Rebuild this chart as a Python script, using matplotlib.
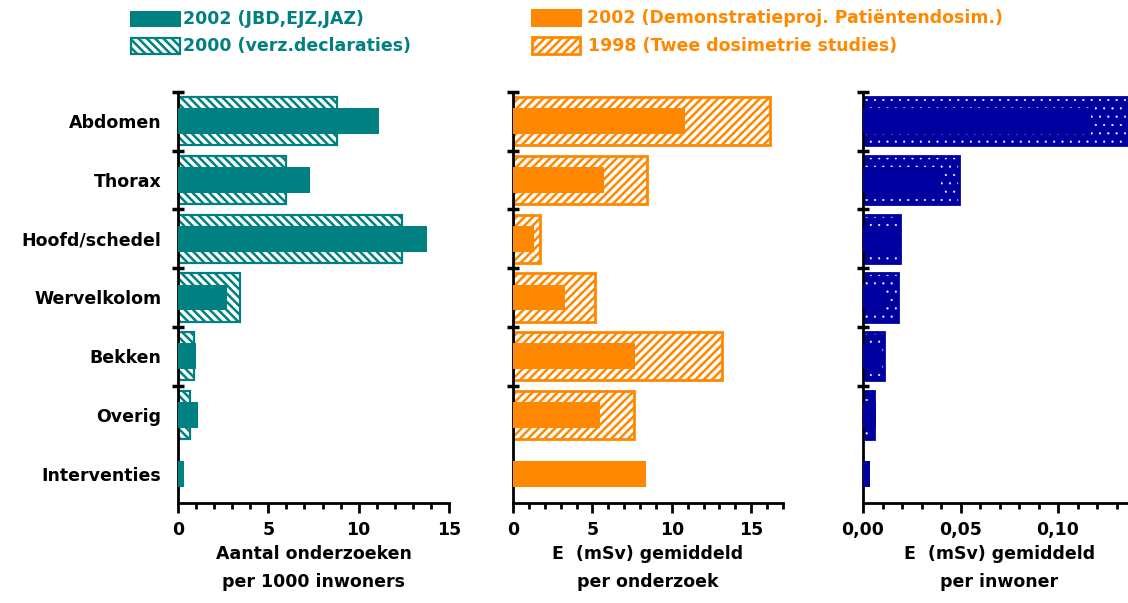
import numpy as np
import matplotlib
matplotlib.use("Agg")
import matplotlib.pyplot as plt
from matplotlib.patches import Rectangle
from matplotlib.ticker import FixedLocator, MultipleLocator

# ── data ──────────────────────────────────────────────────────────────────
categories = ["Abdomen", "Thorax", "Hoofd/schedel", "Wervelkolom",
              "Bekken", "Overig", "Interventies"]

freq_2002 = [11.1, 7.3, 13.8, 2.7, 1.0, 1.1, 0.33]          # per 1000 inwoners
freq_2000 = [8.8, 6.0, 12.4, 3.45, 0.9, 0.67, None]

dose_2002 = [10.8, 5.7, 1.35, 3.3, 7.65, 5.45, 8.35]        # mSv per onderzoek
dose_1998 = [16.15, 8.45, 1.7, 5.15, 13.15, 7.6, None]

cap_solid = [0.117, 0.040, 0.0175, 0.012, 0.009, 0.0065, 0.0034]   # mSv per inwoner
cap_patt  = [0.145, 0.049, 0.019, 0.018, 0.011, 0.0055, None]

x3_ticks  = [0.0, 0.05, 0.10]
x3_labels = ["0,00", "0,05", "0,10"]

legend1 = ["2002 (JBD,EJZ,JAZ)", "2000 (verz.declaraties)"]
legend2 = ["2002 (Demonstratieproj. Patiëntendosim.)", "1998 (Twee dosimetrie studies)"]

xlabels = ["Aantal onderzoeken\nper 1000 inwoners",
           "E  (mSv) gemiddeld\nper onderzoek",
           "E  (mSv) gemiddeld\nper inwoner"]

TEAL, ORANGE, BLUE = "#008080", "#FF8800", "#0000A0"
BACK = "\\" * 4
FWD = "////"

plt.rcParams["font.family"] = "DejaVu Sans"
plt.rcParams["font.weight"] = "bold"
plt.rcParams["axes.labelweight"] = "bold"
plt.rcParams["hatch.linewidth"] = 1.8
FS = 12.5

W, H = 1128, 603
fig = plt.figure(figsize=(W / 100, H / 100), dpi=100)

def rect(x0, x1, ytop, ybot):
    return [x0 / W, 1 - ybot / H, (x1 - x0) / W, (ybot - ytop) / H]

ax1 = fig.add_axes(rect(178, 449, 92, 503))
ax2 = fig.add_axes(rect(513, 783, 92, 503))
ax3 = fig.add_axes(rect(863, 1136, 92, 503))

y = np.arange(len(categories))
WIDE, NARROW = 0.82, 0.44

def split(vals):
    idx = [i for i, v in enumerate(vals) if v is not None]
    return np.array(idx), [vals[i] for i in idx]

# panel 1
i, v = split(freq_2000)
ax1.barh(i, v, height=WIDE, color="white", edgecolor=TEAL, hatch=BACK, linewidth=1.6, zorder=2)
ax1.barh(y, freq_2002, height=NARROW, color=TEAL, linewidth=0, zorder=3)

# panel 2
i, v = split(dose_1998)
ax2.barh(i, v, height=WIDE, color="white", edgecolor=ORANGE, hatch=FWD, linewidth=2.0, zorder=2)
ax2.barh(y, dose_2002, height=NARROW, color=ORANGE, linewidth=0, zorder=3)

# panel 3
i, v = split(cap_patt)
with plt.rc_context({"hatch.linewidth": 0.3}):
    dots = ax3.barh(i, v, height=WIDE, color=BLUE, edgecolor="white", hatch="..",
                    linewidth=0, zorder=2)
    for p in dots:
        if hasattr(p, "set_hatch_linewidth"):
            p.set_hatch_linewidth(0.3)
ax3.barh(i, v, height=WIDE, fill=False, edgecolor=BLUE, linewidth=2.0, zorder=2)
ax3.barh(y, cap_solid, height=NARROW, color=BLUE, linewidth=0, zorder=3)

limits = [(0, 15), (0, 17), (0, 0.14)]
for ax, xl, lab in zip([ax1, ax2, ax3], limits, xlabels):
    ax.set_xlim(*xl)
    ax.set_ylim(len(categories) - 0.5, -0.5)
    for s in ["top", "right"]:
        ax.spines[s].set_visible(False)
    for s in ["left", "bottom"]:
        ax.spines[s].set_linewidth(2.0)
    ax.yaxis.set_major_locator(FixedLocator(y))
    ax.yaxis.set_minor_locator(FixedLocator(np.arange(len(categories) - 1) - 0.5))
    ax.tick_params(axis="y", which="major", length=0, pad=12, labelsize=FS)
    ax.tick_params(axis="y", which="minor", direction="inout", length=8, width=2.5)
    ax.tick_params(axis="x", which="major", direction="out", length=7, width=2, pad=6, labelsize=FS)
    ax.tick_params(axis="x", which="minor", direction="out", length=4, width=2)
    ax.set_xlabel(lab, fontsize=FS, labelpad=4, linespacing=1.75)

ax1.set_yticklabels(categories)
ax2.set_yticklabels([])
ax3.set_yticklabels([])

ax1.xaxis.set_major_locator(MultipleLocator(5))
ax1.xaxis.set_minor_locator(MultipleLocator(1))
ax2.xaxis.set_major_locator(MultipleLocator(5))
ax2.xaxis.set_minor_locator(MultipleLocator(1))
ax3.xaxis.set_major_locator(FixedLocator(x3_ticks))
ax3.set_xticklabels(x3_labels)
ax3.xaxis.set_minor_locator(MultipleLocator(0.01))

# ── legend (figure-level) ─────────────────────────────────────────────────
def patch(x0, x1, ytop, ybot, **kw):
    r = rect(x0, x1, ytop, ybot)
    fig.add_artist(Rectangle((r[0], r[1]), r[2], r[3], transform=fig.transFigure, **kw))

patch(130, 181, 11, 27, facecolor=TEAL, linewidth=0)
patch(131, 180, 38, 54, facecolor="white", edgecolor=TEAL, hatch=BACK, linewidth=1.6)
patch(531, 582, 9, 27, facecolor=ORANGE, linewidth=0)
patch(532, 580, 37, 54, facecolor="white", edgecolor=ORANGE, hatch=FWD, linewidth=2.0)

fig.text(183 / W, 1 - 19 / H, legend1[0], color=TEAL, fontsize=FS, va="center")
fig.text(183 / W, 1 - 46 / H, legend1[1], color=TEAL, fontsize=FS, va="center")
fig.text(587 / W, 1 - 18 / H, legend2[0], color=ORANGE, fontsize=FS, va="center")
fig.text(588 / W, 1 - 46 / H, legend2[1], color=ORANGE, fontsize=FS, va="center")

fig.savefig("out.png", dpi=100)
